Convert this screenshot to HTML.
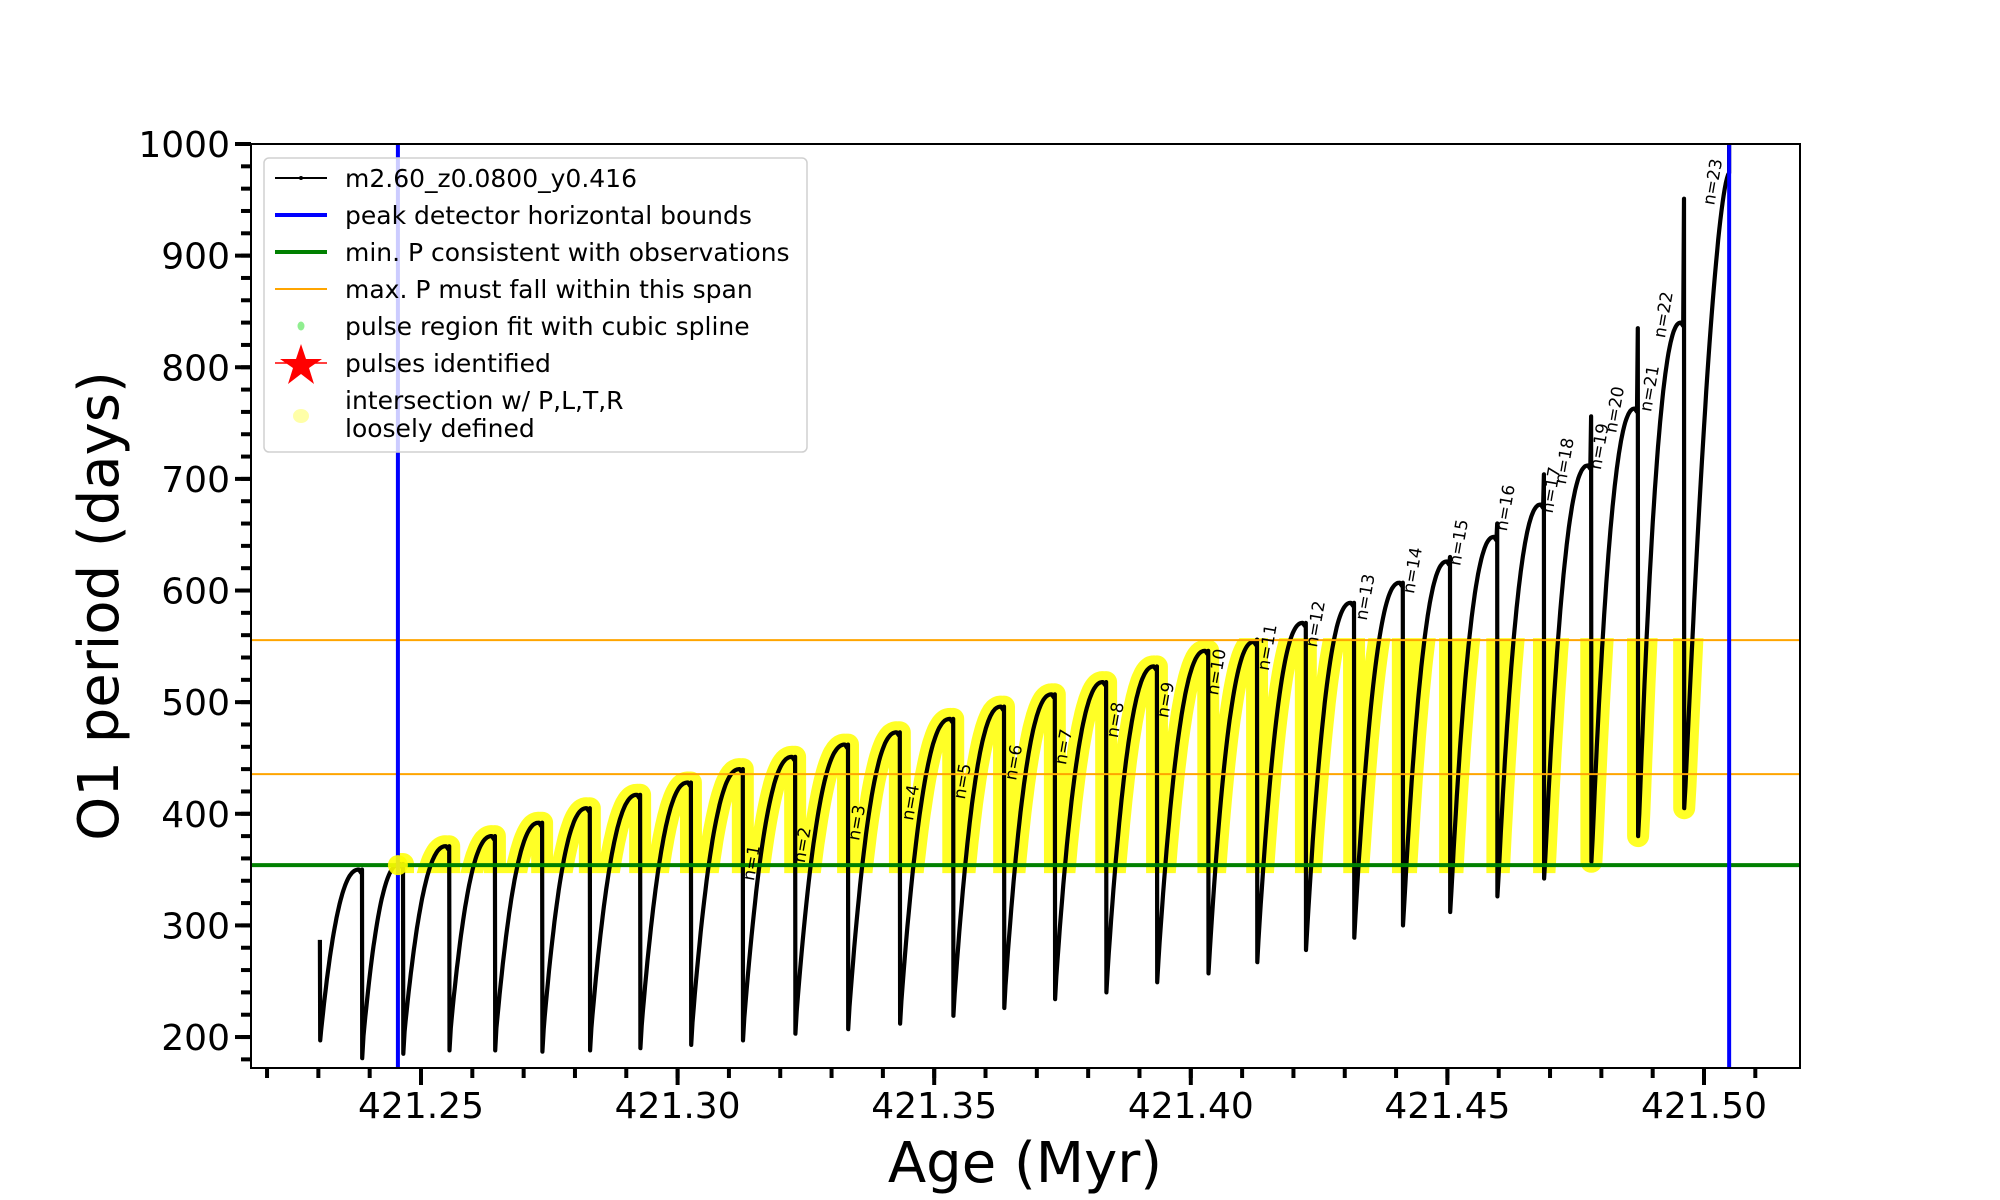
<!DOCTYPE html>
<html><head><meta charset="utf-8"><style>
html,body{margin:0;padding:0;background:#fff;}
svg{display:block;font-family:"DejaVu Sans","Liberation Sans",sans-serif;}
</style></head><body>
<svg id="chart" width="2000" height="1200" viewBox="0 0 2000 1200" xmlns="http://www.w3.org/2000/svg">
<defs><clipPath id="plotClip"><rect x="251" y="144" width="1549" height="924"/></clipPath>
<clipPath id="yellowClip"><rect id="yc" x="0" y="0" width="0" height="0"/></clipPath></defs>
<g id="yellowLayer" clip-path="url(#yellowClip)"></g>
<g id="curveLayer" clip-path="url(#plotClip)"></g>
<g id="refLayer" clip-path="url(#plotClip)"></g>
<g id="labelLayer"></g>
<g id="axisLayer"></g>
<g id="legend">
  <rect x="264" y="158" width="543" height="294" rx="5" fill="#fff" fill-opacity="0.8" stroke="#d0d0d0" stroke-width="1.5"/>
  <g><line x1="275" y1="178" x2="327" y2="178" stroke="#000" stroke-width="2"/><circle cx="301" cy="178" r="2" fill="#000"/><text x="345" y="187" font-size="25">m2.60_z0.0800_y0.416</text></g>
  <g><line x1="275" y1="215" x2="327" y2="215" stroke="#0000ff" stroke-width="4"/><text x="345" y="224" font-size="25">peak detector horizontal bounds</text></g>
  <g><line x1="275" y1="252" x2="327" y2="252" stroke="#008000" stroke-width="4"/><text x="345" y="261" font-size="25">min. P consistent with observations</text></g>
  <g><line x1="275" y1="289" x2="327" y2="289" stroke="#ffa500" stroke-width="2"/><text x="345" y="298" font-size="25">max. P must fall within this span</text></g>
  <g><ellipse cx="301" cy="326" rx="3.5" ry="4.5" fill="#90ee90"/><text x="345" y="335" font-size="25">pulse region fit with cubic spline</text></g>
  <g><polygon points="301,344 306,359 322,359 309,368 314,384 301,374 288,384 293,368 280,359 296,359" fill="#ff0000"/><line x1="275" y1="363" x2="327" y2="363" stroke="#ff0000" stroke-width="1.5"/><text x="345" y="372" font-size="25">pulses identified</text></g>
  <g><ellipse cx="301" cy="416" rx="8" ry="7" fill="#ffffa8"/><text x="345" y="409" font-size="25">intersection w/ P,L,T,R</text><text x="345" y="437" font-size="25">loosely defined</text></g>
</g>
</svg>
<script>
// ---- data ----
var spikeAges=[421.2385,421.2465,421.2555,421.2644,421.2736,421.2829,421.2927,421.3026,421.3127,421.3229,421.3332,421.3433,421.3537,421.3636,421.3735,421.3835,421.3934,421.4034,421.4129,421.4224,421.4318,421.4413,421.4505,421.4597,421.4688,421.4780,421.4871,421.4961];
var peakVals=[350,355,371,380,392,405,417,428,440,451,462,473,485,496,507,518,532,546,554,571,589,607,626,648,677,712,763,840];
var minVals=[181,185,188,188,187,188,190,193,197,203,207,212,219,226,234,240,249,257,267,278,289,300,312,326,342,357,380,405];
var spikeTops=[350,355,371,380,392,405,417,428,440,451,462,473,485,496,507,518,532,546,556,571,589,607,630,660,704,756,835,951];
var startAge=421.2303, startVals=[287,197];
var endAge=421.5049, endVal=974;
var minP=354, maxPLow=435.5, maxPHigh=555.6;
var boundAges=[421.2455,421.5049];
var nLabels=["n=1","n=2","n=3","n=4","n=5","n=6","n=7","n=8","n=9","n=10","n=11","n=12","n=13","n=14","n=15","n=16","n=17","n=18","n=19","n=20","n=21","n=22","n=23"];
var nLabelAges=[421.3145,421.3244,421.3350,421.3455,421.3556,421.3656,421.3753,421.3854,421.3952,421.4051,421.4150,421.4244,421.4341,421.4433,421.4523,421.4614,421.4703,421.4729,421.4797,421.4827,421.4895,421.4922,421.5018];
var nLabelVals=[356,372,392,410,429,446,460,484,502,527,549,570,594,618,643,674,690,716,729,762,781,847,966];
var xTickVals=[421.25,421.30,421.35,421.40,421.45,421.50];
var xTickLabels=["421.25","421.30","421.35","421.40","421.45","421.50"];
var yTickVals=[200,300,400,500,600,700,800,900,1000];
var yTickLabels=["200","300","400","500","600","700","800","900","1000"];

// ---- scales ----
var X0=251,X1=1800,Y0=144,Y1=1068;
function sx(a){return 421+(a-421.25)*5132;}
function sy(v){return 144+(1000-v)*1.1163;}
var NS="http://www.w3.org/2000/svg";
function mk(tag,attrs,parent){var e=document.createElementNS(NS,tag);for(var k in attrs)e.setAttribute(k,attrs[k]);parent.appendChild(e);return e;}

// ---- build curve ----
var pts=[];
pts.push([startAge,startVals[0]]);pts.push([startAge+0.00005,startVals[1]]);
var prevAge=startAge+0.00005, prevVal=startVals[1];
for(var i=0;i<spikeAges.length;i++){
  var t0=prevAge,t1=spikeAges[i]-0.0006,r=prevVal,P=peakVals[i];
  for(var k=1;k<=40;k++){var u=k/40;var v=r+(P-r)*(1-Math.pow(1-u,2.3));pts.push([t0+(t1-t0)*u,v]);}
  pts.push([spikeAges[i]-0.00015,P-3]);
  pts.push([spikeAges[i],spikeTops[i]]);
  pts.push([spikeAges[i]+0.00005,minVals[i]]);
  prevAge=spikeAges[i]+0.0003;prevVal=minVals[i]+20;
  pts.push([prevAge,prevVal]);
}
for(var k=1;k<=40;k++){var u=k/40;pts.push([prevAge+(endAge-prevAge)*u,prevVal+(endVal-prevVal)*(1-Math.pow(1-u,1.6))]);}
pts.push([endAge,1000]);pts.push([endAge,endVal]);
var d=pts.map(function(p,j){return (j?"L":"M")+sx(p[0]).toFixed(1)+","+sy(p[1]).toFixed(1);}).join("");

var yc=document.getElementById("yc");
yc.setAttribute("x",sx(boundAges[0]));yc.setAttribute("width",sx(boundAges[1])-sx(boundAges[0])+12);
yc.setAttribute("y",sy(maxPHigh)-2);yc.setAttribute("height",sy(minP)-sy(maxPHigh)+10);
var yl=document.getElementById("yellowLayer");
var yp=mk("path",{d:d,fill:"none",stroke:"#ffff00","stroke-width":22,"stroke-linecap":"round","stroke-linejoin":"round","stroke-opacity":0.85},yl);


var cl=document.getElementById("curveLayer");
var cp=mk("path",{d:d,fill:"none",stroke:"#000","stroke-width":4.2,"stroke-linejoin":"round"},cl);



// ---- reference lines ----
var rl=document.getElementById("refLayer");
var g1=mk("line",{x1:X0,x2:X1,y1:sy(minP),y2:sy(minP),stroke:"#008000","stroke-width":4},rl);


var o1=mk("line",{x1:X0,x2:X1,y1:sy(maxPLow),y2:sy(maxPLow),stroke:"#ffa500","stroke-width":2},rl);


var o2=mk("line",{x1:X0,x2:X1,y1:sy(maxPHigh),y2:sy(maxPHigh),stroke:"#ffa500","stroke-width":2},rl);


boundAges.forEach(function(a,j){
  var b=mk("line",{x1:sx(a),x2:sx(a),y1:Y0,y2:Y1,stroke:"#0000ff","stroke-width":4},rl);
  
  
});
var dot=mk("circle",{cx:sx(boundAges[0]),cy:sy(minP),r:10,fill:"#ffff00","fill-opacity":0.9},rl);



// ---- n labels ----
var ll=document.getElementById("labelLayer");
nLabels.forEach(function(s,j){
  var x=sx(nLabelAges[j]),y=sy(nLabelVals[j]);
  var t=mk("text",{x:x,y:y,"font-size":17,"text-anchor":"middle","dominant-baseline":"central",transform:"rotate(-80 "+x+" "+y+")"},ll);
  t.textContent=s;
  
  
});

// ---- axes ----
var ax=document.getElementById("axisLayer");
var fr=mk("rect",{x:X0,y:Y0,width:X1-X0,height:Y1-Y0,fill:"none",stroke:"#000","stroke-width":2},ax);


for(var m=0;m<=30;m++){
  var a=421.22+m*0.01;var x=sx(a);if(x<X0||x>X1)continue;
  mk("line",{x1:x,x2:x,y1:Y1,y2:Y1+10,stroke:"#000","stroke-width":4},ax);
}
xTickVals.forEach(function(a,j){
  var x=sx(a);
  var tk=mk("line",{x1:x,x2:x,y1:Y1,y2:Y1+17,stroke:"#000","stroke-width":4},ax);
  
  
  var t=mk("text",{x:x,y:1118,"font-size":36,"text-anchor":"middle"},ax);
  t.textContent=xTickLabels[j];
  
  
});
for(var v=180;v<=1000;v+=20){
  var y=sy(v);mk("line",{x1:X0-10,x2:X0,y1:y,y2:y,stroke:"#000","stroke-width":4},ax);
}
yTickVals.forEach(function(v,j){
  var y=sy(v);
  var tk=mk("line",{x1:X0-16,x2:X0,y1:y,y2:y,stroke:"#000","stroke-width":4},ax);
  
  
  var t=mk("text",{x:230,y:y+13,"font-size":36,"text-anchor":"end"},ax);
  t.textContent=yTickLabels[j];
  
  
});
var xt=mk("text",{x:1025,y:1182,"font-size":56,"text-anchor":"middle"},ax);
xt.textContent="Age (Myr)";


var ytt=mk("text",{x:0,y:0,"font-size":56,"text-anchor":"middle",transform:"translate(118 606) rotate(-90)"},ax);
ytt.textContent="O1 period (days)";


// legend on top
var svg=document.getElementById("chart");svg.appendChild(document.getElementById("legend"));
</script>
</body></html>
